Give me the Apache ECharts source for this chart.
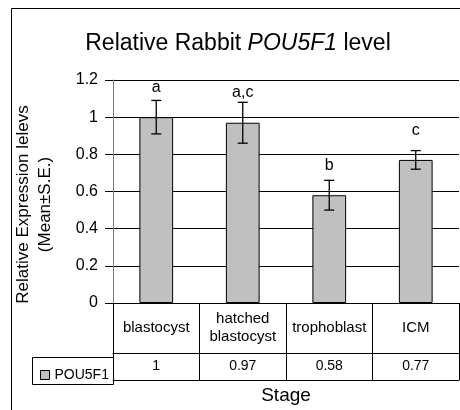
<!DOCTYPE html>
<html>
<head>
<meta charset="utf-8">
<script src="https://cdn.jsdelivr.net/npm/echarts@6/dist/echarts.min.js"></script>
<style>
html,body{margin:0;padding:0;background:#fff;}
#c{width:460px;height:410px;}
</style>
</head>
<body>
<div id="c"></div>
<script>
// ---- data ----
var categories = ['blastocyst', 'hatched\nblastocyst', 'trophoblast', 'ICM'];
var seriesName = 'POU5F1';
var means = [1, 0.97, 0.58, 0.77];
var errors = [0.09, 0.11, 0.08, 0.05];
var letters = ['a', 'a,c', 'b', 'c'];
var yTicks = [0, 0.2, 0.4, 0.6, 0.8, 1, 1.2];

// ---- layout ----
var FONT = "'Liberation Sans', Arial, sans-serif";
var GRID_LEFT = 113, GRID_TOP = 80, GRID_RIGHT = 1, GRID_BOTTOM = 103;
var ROW1 = 50, ROW2 = 27;

var chart = echarts.init(document.getElementById('c'), null, {renderer: 'canvas'});

var option = {
  backgroundColor: '#fff',
  animation: false,
  textStyle: {fontFamily: FONT, color: '#000'},
  title: {
    text: 'Relative Rabbit {i|POU5F1} level',
    left: 233,
    textAlign: 'center',
    top: 27,
    textStyle: {
      fontFamily: FONT, fontSize: 23, fontWeight: 'normal', color: '#000',
      rich: {i: {fontFamily: FONT, fontSize: 23, fontStyle: 'italic', color: '#000'}}
    }
  },
  legend: {
    data: [seriesName],
    left: 35,
    top: GRID_TOP + (410 - GRID_TOP - GRID_BOTTOM) + ROW1 + 6,
    icon: 'rect',
    itemWidth: 9,
    itemHeight: 9,
    itemStyle: {color: '#C0C0C0', borderColor: '#000', borderWidth: 1},
    textStyle: {fontFamily: FONT, fontSize: 14, color: '#000'}
  },
  grid: {left: GRID_LEFT, top: GRID_TOP, right: GRID_RIGHT, bottom: GRID_BOTTOM, containLabel: false},
  xAxis: [
    {
      type: 'category',
      data: categories,
      position: 'bottom',
      boundaryGap: true,
      axisLine: {show: true, lineStyle: {color: '#000', width: 1}},
      axisTick: {show: true, length: ROW1 + ROW2, interval: 0, lineStyle: {color: '#000'}},
      axisLabel: {interval: 0, fontFamily: FONT, fontSize: 15, color: '#000', margin: ROW1 / 2,
                  verticalAlign: 'middle', lineHeight: 18, align: 'center'},
      splitLine: {show: false}
    },
    {
      type: 'category',
      data: categories,
      position: 'bottom',
      offset: ROW1,
      boundaryGap: true,
      axisLine: {show: true, lineStyle: {color: '#000', width: 1}},
      axisTick: {show: false},
      axisLabel: {interval: 0, fontFamily: FONT, fontSize: 14, color: '#000', margin: ROW2 / 2,
                  verticalAlign: 'middle',
                  formatter: function (v, i) { return String(means[i]); }},
      splitLine: {show: false}
    },
    {
      type: 'category',
      data: categories,
      position: 'bottom',
      offset: ROW1 + ROW2,
      boundaryGap: true,
      axisLine: {show: true, lineStyle: {color: '#000', width: 1}},
      axisTick: {show: false},
      axisLabel: {show: false},
      name: 'Stage',
      nameLocation: 'middle',
      nameGap: 6,
      nameTextStyle: {fontFamily: FONT, fontSize: 19, color: '#000', verticalAlign: 'top'},
      splitLine: {show: false}
    }
  ],
  yAxis: {
    type: 'value',
    min: yTicks[0],
    max: yTicks[yTicks.length - 1],
    interval: yTicks[1] - yTicks[0],
    axisLine: {show: true, lineStyle: {color: '#808080', width: 1}},
    axisTick: {show: true, length: 8, inside: false, lineStyle: {color: '#000'}},
    axisLabel: {fontFamily: FONT, fontSize: 16, color: '#000', margin: 15},
    splitLine: {show: true, lineStyle: {color: '#000', width: 1}},
    name: 'Relative Expression lelevs\n(Mean±S.E.)',
    nameLocation: 'middle',
    nameRotate: 90,
    nameGap: 57,
    nameTextStyle: {fontFamily: FONT, fontSize: 17, color: '#000', lineHeight: 22, align: 'center',
                    padding: [0, 26, 0, 0]}
  },
  series: [
    {
      name: seriesName,
      type: 'bar',
      xAxisIndex: 0,
      data: means,
      barWidth: '39%',
      itemStyle: {color: '#C0C0C0', borderColor: '#000', borderWidth: 1},
      z: 2
    },
    {
      name: 'error',
      type: 'custom',
      xAxisIndex: 0,
      data: means.map(function (m, i) { return [i, m, errors[i]]; }),
      z: 5,
      renderItem: function (params, api) {
        var i = api.value(0), m = api.value(1), e = api.value(2);
        var top = api.coord([i, m + e]);
        var bot = api.coord([i, m - e]);
        var lab = api.coord([i, m + 0.16]);
        var hw = 5;
        var ls = {stroke: '#000', lineWidth: 1.3};
        return {
          type: 'group',
          children: [
            {type: 'line', shape: {x1: top[0], y1: top[1], x2: bot[0], y2: bot[1]}, style: ls},
            {type: 'line', shape: {x1: top[0] - hw, y1: top[1], x2: top[0] + hw, y2: top[1]}, style: ls},
            {type: 'line', shape: {x1: bot[0] - hw, y1: bot[1], x2: bot[0] + hw, y2: bot[1]}, style: ls},
            {type: 'text', style: {text: letters[params.dataIndex], x: lab[0], y: lab[1],
              fill: '#000', font: '16px ' + FONT, textAlign: 'center', textVerticalAlign: 'middle'}}
          ]
        };
      }
    }
  ],
  graphic: [
    {type: 'rect', silent: true, z: 100,
     shape: {x: 11.5, y: 8.5, width: 600, height: 600},
     style: {fill: null, stroke: '#000', lineWidth: 1}},
    {type: 'rect', silent: true, z: 100,
     shape: {x: 32.5, y: 410 - GRID_BOTTOM + ROW1 + 0.5, width: GRID_LEFT - 32, height: ROW2},
     style: {fill: null, stroke: '#000', lineWidth: 1}}
  ]
};
chart.setOption(option);
</script>
</body>
</html>
